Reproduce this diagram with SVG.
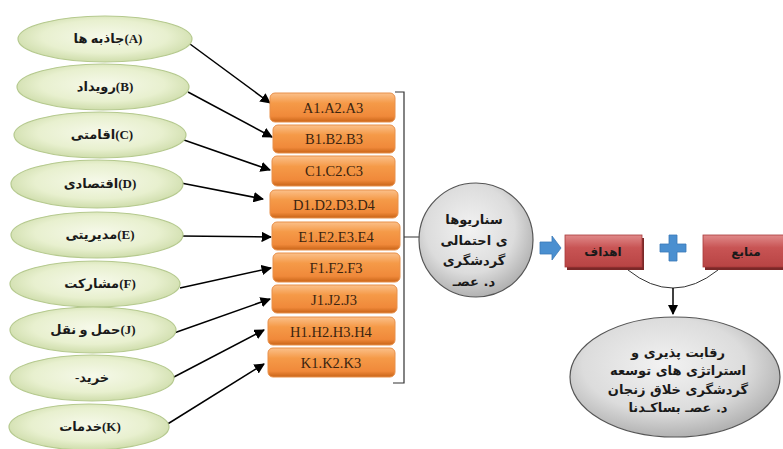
<svg xmlns="http://www.w3.org/2000/svg" width="783" height="449" viewBox="0 0 783 449">
<style>
.ell{stroke:#b5c98e;stroke-width:1.2}
.etx{font-family:"Liberation Serif","DejaVu Sans",sans-serif;font-weight:bold;font-size:13px;fill:#1a1a1a;text-anchor:middle}
.box{stroke:#e8904a;stroke-width:1}
.btx{font-family:"Liberation Serif",serif;font-size:14.5px;fill:#3a2410;text-anchor:middle}
.con{stroke:#000;stroke-width:1.5;fill:none}
.ctx{font-family:"DejaVu Sans",sans-serif;font-weight:bold;font-size:13px;fill:#1a1a1a;text-anchor:middle}
.rtx{font-family:"DejaVu Sans",sans-serif;font-weight:bold;font-size:12px;fill:#1a1a1a;text-anchor:middle}
</style>
<defs>
<radialGradient id="gG" cx="50%" cy="45%" r="60%">
<stop offset="0" stop-color="#f6f9ea"/><stop offset="0.6" stop-color="#e8f0cf"/><stop offset="1" stop-color="#c8d8a2"/>
</radialGradient>
<linearGradient id="gO" x1="0" y1="0" x2="0" y2="1">
<stop offset="0" stop-color="#fbc08a"/><stop offset="0.35" stop-color="#f59a48"/><stop offset="0.8" stop-color="#f0893a"/><stop offset="1" stop-color="#c86418"/>
</linearGradient>
<radialGradient id="gC" cx="45%" cy="40%" r="65%">
<stop offset="0" stop-color="#f2f2f2"/><stop offset="0.6" stop-color="#dcdcdc"/><stop offset="1" stop-color="#a8a8a8"/>
</radialGradient>
<linearGradient id="gR" x1="0" y1="0" x2="0" y2="1">
<stop offset="0" stop-color="#e08a8a"/><stop offset="0.4" stop-color="#c85454"/><stop offset="1" stop-color="#b84444"/>
</linearGradient>
<marker id="ah" viewBox="0 0 10 10" refX="9" refY="5" markerWidth="7" markerHeight="7" orient="auto" markerUnits="strokeWidth">
<path d="M0,0 L10,5 L0,10 z" fill="#000"/>
</marker>
</defs>

<g id="connectors">
<path class="con" marker-end="url(#ah)" d="M190,44 L270,103"/>
<path class="con" marker-end="url(#ah)" d="M188,92 L272,137"/>
<path class="con" marker-end="url(#ah)" d="M184,140 L270,170"/>
<path class="con" marker-end="url(#ah)" d="M181,183 L263,199"/>
<path class="con" marker-end="url(#ah)" d="M180,236 L271,237"/>
<path class="con" marker-end="url(#ah)" d="M180,288 L271,268"/>
<path class="con" marker-end="url(#ah)" d="M174,333 L270,299"/>
<path class="con" marker-end="url(#ah)" d="M172,378 L264,330"/>
<path class="con" marker-end="url(#ah)" d="M166,425 L264,364"/>
<path d="M395,92 L404,92 L404,383 L393,383 M404,237 L420,237" fill="none" stroke="#333" stroke-width="1.2"/>
<path d="M628,270 Q673,306 718,270" fill="none" stroke="#333" stroke-width="1"/>
<path class="con" marker-end="url(#ah)" d="M673,288 L673,314"/>
</g>

<g id="nA"><ellipse class="ell" cx="105" cy="39" rx="87" ry="23" fill="url(#gG)"/><text class="etx" x="108" y="43" direction="rtl">(A)جاذبه ها</text></g>
<g id="nB"><ellipse class="ell" cx="103" cy="87" rx="86" ry="23" fill="url(#gG)"/><text class="etx" x="105" y="91" direction="rtl">(B)رویداد</text></g>
<g id="nC"><ellipse class="ell" cx="100" cy="135" rx="86" ry="23" fill="url(#gG)"/><text class="etx" x="102" y="139" direction="rtl">(C)اقامتی</text></g>
<g id="nD"><ellipse class="ell" cx="97" cy="184" rx="86" ry="24" fill="url(#gG)"/><text class="etx" x="100" y="188" direction="rtl">(D)اقتصادی</text></g>
<g id="nE"><ellipse class="ell" cx="97" cy="235" rx="86" ry="23" fill="url(#gG)"/><text class="etx" x="100" y="239" direction="rtl">(E)مدیریتی</text></g>
<g id="nF"><ellipse class="ell" cx="95" cy="284" rx="85" ry="23" fill="url(#gG)"/><text class="etx" x="100" y="288" direction="rtl">(F)مشارکت</text></g>
<g id="nJ"><ellipse class="ell" cx="93" cy="330" rx="83" ry="23" fill="url(#gG)"/><text class="etx" x="93" y="334" direction="rtl">(J)حمل و نقل</text></g>
<g id="nKh"><ellipse class="ell" cx="92" cy="378" rx="82" ry="23" fill="url(#gG)"/><text class="etx" x="92" y="382" direction="rtl">خرید-</text></g>
<g id="nK"><ellipse class="ell" cx="89" cy="427" rx="80" ry="23" fill="url(#gG)"/><text class="etx" x="90" y="431" direction="rtl">(K)خدمات</text></g>

<g id="bA"><rect x="270" y="93" width="125" height="29" rx="5" fill="url(#gO)" class="box"/><text class="btx" x="333" y="113">A1.A2.A3</text></g>
<g id="bB"><rect x="273" y="125" width="122" height="28" rx="5" fill="url(#gO)" class="box"/><text class="btx" x="334" y="144">B1.B2.B3</text></g>
<g id="bC"><rect x="272" y="156" width="123" height="30" rx="5" fill="url(#gO)" class="box"/><text class="btx" x="334" y="176">C1.C2.C3</text></g>
<g id="bD"><rect x="270" y="190" width="128" height="28" rx="5" fill="url(#gO)" class="box"/><text class="btx" x="334" y="210">D1.D2.D3.D4</text></g>
<g id="bE"><rect x="272" y="222" width="128" height="28" rx="5" fill="url(#gO)" class="box"/><text class="btx" x="336" y="242">E1.E2.E3.E4</text></g>
<g id="bF"><rect x="273" y="253" width="127" height="29" rx="5" fill="url(#gO)" class="box"/><text class="btx" x="336" y="273">F1.F2.F3</text></g>
<g id="bJ"><rect x="272" y="285" width="125" height="28" rx="5" fill="url(#gO)" class="box"/><text class="btx" x="334" y="305">J1.J2.J3</text></g>
<g id="bH"><rect x="268" y="317" width="127" height="28" rx="5" fill="url(#gO)" class="box"/><text class="btx" x="331" y="337">H1.H2.H3.H4</text></g>
<g id="bK"><rect x="268" y="348" width="127" height="29" rx="5" fill="url(#gO)" class="box"/><text class="btx" x="331" y="368">K1.K2.K3</text></g>

<g id="scenario"><circle cx="476" cy="240" r="57" fill="url(#gC)" stroke="#555" stroke-width="1.2"/>
<text class="ctx" x="474" y="224" direction="rtl">سناریوها</text>
<text class="ctx" x="474" y="245" direction="rtl">ی احتمالی</text>
<text class="ctx" x="474" y="265" direction="rtl">گردشگری</text>
<text class="ctx" x="474" y="286" direction="rtl">د. عصـ</text></g>

<g id="arrowBlue"><path d="M540,242 L552,242 L552,236 L561,248 L552,260 L552,254 L540,254 z" fill="#4a8fd0" stroke="#3a78b8" stroke-width="0.8"/></g>

<g id="goals"><rect x="567" y="238" width="77" height="32" fill="#7a2828"/><rect x="565" y="235" width="77" height="32" fill="url(#gR)" stroke="#a83a3a" stroke-width="0.8"/><text class="rtx" x="603" y="256" direction="rtl">اهداف</text></g>

<g id="plus"><path d="M669,235 L677,235 L677,244 L686,244 L686,252 L677,252 L677,261 L669,261 L669,252 L660,252 L660,244 L669,244 z" fill="#4a8fd0" stroke="#3a78b8" stroke-width="0.8"/></g>

<g id="resources"><rect x="705" y="238" width="80" height="32" fill="#7a2828"/><rect x="703" y="235" width="82" height="32" fill="url(#gR)" stroke="#a83a3a" stroke-width="0.8"/><text class="rtx" x="746" y="256" direction="rtl">منابع</text></g>

<g id="result"><ellipse cx="675" cy="377" rx="105" ry="60" fill="url(#gC)" stroke="#555" stroke-width="1.2"/>
<text class="ctx" x="678" y="357" direction="rtl">رقابت پذیری و</text>
<text class="ctx" x="678" y="375" direction="rtl">استراتژی های توسعه</text>
<text class="ctx" x="678" y="394" direction="rtl">گردشگری خلاق زنجان</text>
<text class="ctx" x="678" y="412" direction="rtl">د. عصـ بساکـدنا</text></g>
</svg>
